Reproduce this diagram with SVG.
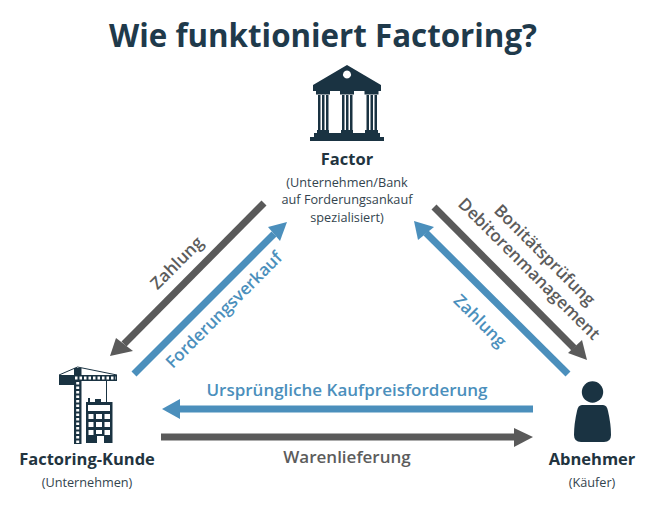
<svg xmlns="http://www.w3.org/2000/svg" width="648" height="506" viewBox="0 0 648 506">
<style>
text{font-family:"Open Sans","Noto Sans","Liberation Sans",sans-serif;text-anchor:middle}
.d{fill:#1a3342}
.t{fill:#1f3a4b;font-weight:700;font-size:33px}
.n{fill:#22343f;font-weight:700;font-size:16.500px}
.s{fill:#33444e;font-size:12.700px}
.bl{fill:#4b8fbc;font-weight:600;font-size:17px}
.gr{fill:#5c5c5c;font-weight:600;font-size:17px}
.sb{stroke:#4b8fbc;stroke-width:7;fill:none}
.sg{stroke:#5a5a5a;stroke-width:7;fill:none}
.hb{fill:#4b8fbc}
.hg{fill:#5a5a5a}
.lat{fill:none;stroke:#fff;stroke-width:3;stroke-dasharray:2.500 2}
</style>
<rect width="648" height="506" fill="#fff"/>
<text class="t" x="323" y="47" textLength="428" lengthAdjust="spacingAndGlyphs">Wie funktioniert Factoring?</text>
<g id="connectors">
<path class="sg" d="M264 203L124 344"/><polygon class="hg" points="110,356 116,338 133,351"/>
<path class="sb" d="M134 374L274 234"/><polygon class="hb" points="287,222 268,227 280,241"/>
<path class="sg" d="M434 207L574 348"/><polygon class="hg" points="587,360 568,353 582,340"/>
<path class="sb" d="M568 374L426 233"/><polygon class="hb" points="414,221 418,240 434,227"/>
<path class="sb" d="M533 409H178"/><polygon class="hb" points="162,409 180,399 180,419"/>
<path class="sg" d="M161 437H516"/><polygon class="hg" points="533,437 514,428 514,447"/>
<text class="gr" transform="translate(181 267) rotate(-45)" x="0" y="0">Zahlung</text>
<text class="bl" transform="translate(228 314) rotate(-45)" x="0" y="0">Forderungsverkauf</text>
<text class="gr" transform="translate(540.500 259) rotate(45)" x="0" y="0">Bonitätsprüfung</text>
<text class="gr" transform="translate(525 273) rotate(45)" x="0" y="0">Debitorenmanagement</text>
<text class="bl" transform="translate(476 325) rotate(45)" x="0" y="0">Zahlung</text>
<text class="bl" x="347" y="396">Ursprüngliche Kaufpreisforderung</text>
<text class="gr" x="347" y="463">Warenlieferung</text>
</g>
<g id="factor">
<path class="d" fill-rule="evenodd" d="M347 65L381 85V91H313V85ZM347 70.500a4 4 0 1 0 .01 0Z"/>
<path class="d" d="M316 91h14v3.500h-14zM340 91h14v3.500h-14zM364.500 91h14v3.500h-14z"/>
<path class="d" d="M318 95h2.500v35h-2.500zM322 95h2.500v35h-2.500zM326 95h2.500v35h-2.500zM342 95h2.500v35h-2.500zM346 95h2.500v35h-2.500zM350 95h2.500v35h-2.500zM366.500 95h2.500v35h-2.500zM370.500 95h2.500v35h-2.500zM374.500 95h2.500v35h-2.500z"/>
<path class="d" d="M317 130h12v3h-12zM341 130h12v3h-12zM365 130h13v3h-13zM314 133h66v4h-66zM310 137h74v4h-74z"/>
<text class="n" x="347" y="165">Factor</text>
<text class="s" x="347" y="187">(Unternehmen/Bank</text>
<text class="s" x="347" y="204">auf Forderungsankauf</text>
<text class="s" x="347" y="222">spezialisiert)</text>
</g>
<g id="factoring-kunde">
<path class="d" d="M74 368h7.500v76H74z"/>
<path class="d" d="M59 375h58v6H59z"/>
<path class="d" d="M59 375h15v10H59z"/>
<path class="lat" d="M77.700 382V444M75 378H116"/>
<path d="M59 375L77.500 367L117 375M106.500 381V403" fill="none" stroke="#1a3342" stroke-width="1"/>
<path class="d" fill-rule="evenodd" d="M86 402h2v-4h2v4h5v-3h6v3h11.500v41H104v-7h-7v7H86ZM88 405v6h22v-6ZM88.500 414v5h5v-5ZM96 414v5h6v-5ZM104.500 414v5h5.500v-5ZM88.500 422v5h5v-5ZM96 422v5h6v-5ZM104.500 422v5h5.500v-5ZM88.500 430v5h5v-5ZM96 430v4h6v-4ZM104.500 430v5h5.500v-5Z"/>
<text class="n" x="87" y="465">Factoring-Kunde</text>
<text class="s" x="87" y="487">(Unternehmen)</text>
</g>
<g id="abnehmer">
<circle class="d" cx="592.500" cy="392" r="10.700"/>
<path class="d" d="M582 405H603Q607 405 608 411Q611 424 611 435Q611 442 604 442H581Q574 442 574 435Q574 424 577 411Q578 405 582 405Z"/>
<text class="n" x="592" y="465">Abnehmer</text>
<text class="s" x="592" y="487">(Käufer)</text>
</g>
</svg>
